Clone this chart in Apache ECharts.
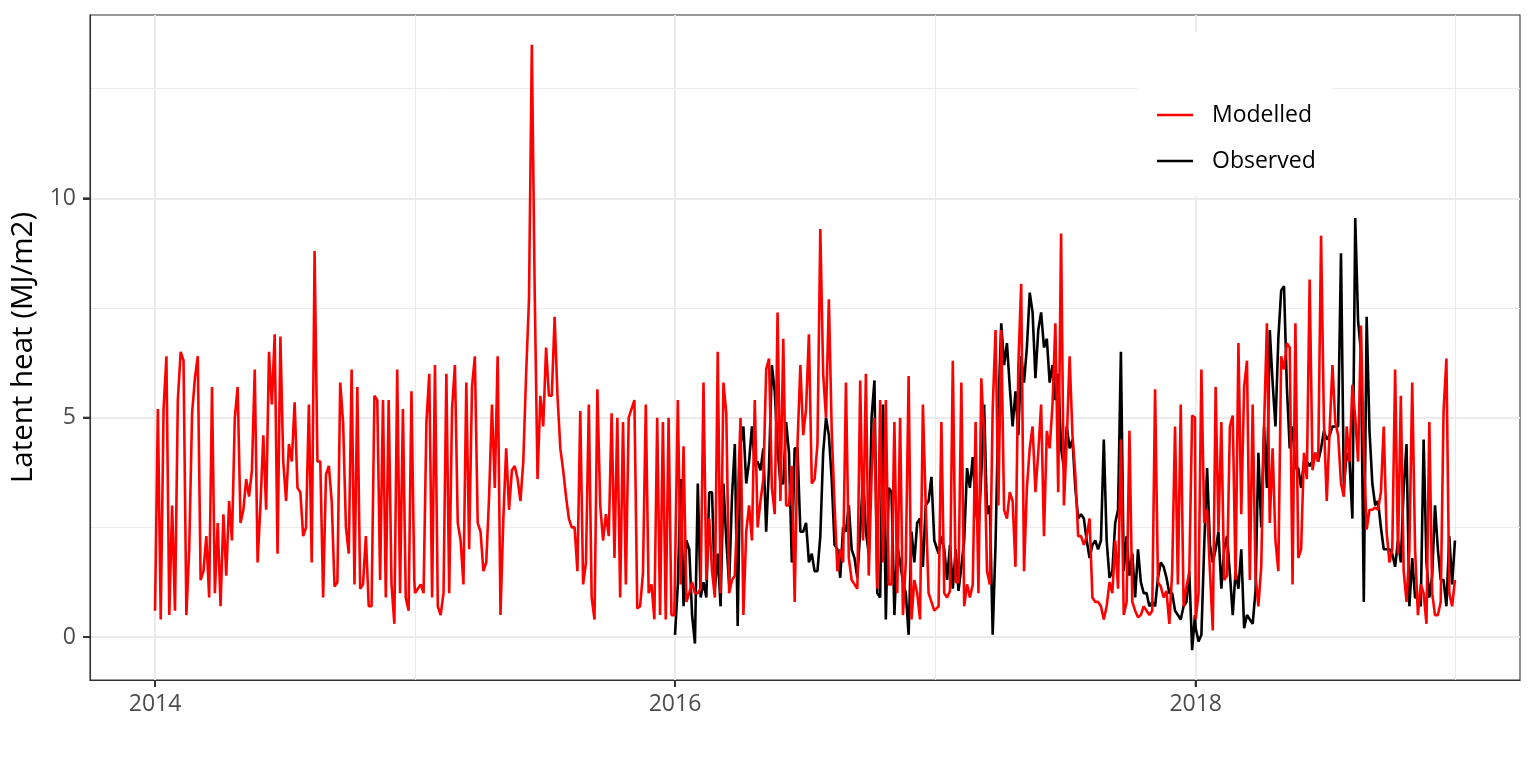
<!DOCTYPE html>
<html>
<head>
<meta charset="utf-8">
<script src="https://cdn.jsdelivr.net/npm/echarts@6/dist/echarts.min.js"></script>
<style>
html,body{margin:0;padding:0;background:#fff;}
#chart{width:1536px;height:768px;}
</style>
</head>
<body>
<div id="chart"></div>
<script>
// Daily latent heat, sampled every 4 days from 1 January of each year (MJ/m2)
const sampleStepDays = 4;
const yearStartDay = {2014: 0, 2015: 365, 2016: 730, 2017: 1096, 2018: 1461};
const yearTickLabels = {0: '2014', 730: '2016', 1461: '2018'};

const modelled2014 = [0.6,5.2,0.4,5.2,6.4,0.5,3.0,0.6,5.4,6.5,6.3,0.5,2.0,5.1,5.9,6.4,1.3,1.5,2.3,0.9,
  5.7,1.0,2.6,0.7,2.8,1.4,3.1,2.2,5.0,5.7,2.6,2.9,3.6,3.2,3.8,6.1,1.7,3.0,4.6,2.9,
  6.5,5.3,6.9,1.9,6.85,4.0,3.1,4.4,4.0,5.35,3.4,3.3,2.3,2.5,5.3,
  1.7,8.8,4.0,4.0,0.9,3.7,3.9,3.1,1.15,1.25,5.8,4.9,2.5,1.9,6.1,1.2,5.7,1.1,1.2,2.3,
  0.7,0.7,5.5,5.4,1.3,5.4,0.9,5.4,1.2,0.3,6.1,1.0,5.2,0.9,0.6,5.6,1.3];
const modelled2015 = [1.0,1.1,1.2,1.0,4.9,6.0,0.9,6.2,0.7,0.5,1.0,6.0,1.0,5.2,6.2,2.6,2.2,1.2,5.8,2.0,
  5.7,6.4,2.6,2.4,1.5,1.7,3.2,5.3,3.4,6.4,0.5,2.7,4.3,2.9,3.8,3.9,3.6,3.1,4.0,6.0,
  7.7,13.5,7.9,3.6,5.5,4.8,6.6,5.5,5.5,7.3,5.5,4.3,3.8,3.2,2.7,2.5,2.5,1.5,5.15,1.2,
  1.7,5.3,0.9,0.4,5.65,3.0,2.2,2.8,2.3,5.1,1.8,5.0,0.9,4.9,1.2,5.0,
  5.2,5.4,0.65,0.7,1.45,5.3,1.0,1.2,0.4,5.0,0.5,4.9,0.4,5.0,0.5,0.5];
const modelled2016 = [0.5,5.4,1.2,4.35,0.8,1.0,1.25,1.0,1.0,1.1,5.8,1.3,2.7,1.5,0.9,6.5,1.0,5.8,5.1,1.0,
  1.3,1.4,3.1,5.0,0.5,2.4,3.0,2.2,5.4,2.5,3.1,3.6,6.1,6.35,3.4,2.8,7.4,3.1,6.8,3.0,3.0,
  3.9,0.8,4.4,6.2,4.6,5.2,6.9,3.5,3.6,4.4,9.3,6.0,5.0,7.7,4.7,3.0,1.5,2.0,1.7,5.8,
  1.8,1.3,1.2,1.1,5.85,2.2,6.0,1.4,3.7,5.0,1.1,5.4,1.7,5.4,1.2,1.2,4.9,1.0,5.0,0.5,
  1.7,5.95,0.4,1.3,1.0,0.4,5.3,3.0,1.0,0.8,0.6];
const modelled2017 = [0.6,0.7,4.9,1.0,0.9,
  1.05,6.3,1.25,1.25,5.8,0.7,1.2,0.9,1.2,4.9,1.0,5.9,4.6,1.5,1.2,5.2,7.0,3.0,7.0,2.9,
  2.7,3.3,3.1,1.6,6.2,8.05,1.5,3.4,4.3,4.8,3.3,4.2,5.3,2.3,4.7,4.3,5.3,7.15,3.3,9.2,
  3.0,4.5,6.4,4.6,3.7,2.3,2.3,2.1,2.3,2.7,0.9,0.8,0.8,0.7,0.4,0.7,1.25,
  1.0,2.2,1.1,4.5,0.5,0.8,4.7,0.8,0.6,0.45,0.5,0.7,0.6,0.5,0.6,5.65,1.25,1.15,0.9,1.05,
  0.3,1.5,4.8,1.2,5.3,0.7,1.15,1.45,5.05,5.0];
const modelled2018 = [0.4,1.0,6.1,2.6,2.9,1.5,0.15,5.7,2.4,4.9,1.3,1.4,4.8,5.05,1.3,6.7,2.8,5.7,6.3,1.3,5.3,1.4,0.7,1.6,4.8,7.15,
  2.6,4.3,2.2,1.5,6.4,6.1,6.7,6.6,1.2,7.15,1.8,2.0,4.2,3.6,8.15,3.8,4.2,4.0,9.15,4.9,3.1,4.7,6.2,4.9,4.6,
  3.5,3.2,4.8,4.0,5.75,5.0,4.0,7.1,4.2,2.45,2.9,2.9,2.95,2.9,3.3,4.8,2.4,1.7,2.0,6.1,
  1.9,5.5,1.5,0.8,2.0,5.8,2.0,0.5,1.2,1.0,0.3,4.9,1.0,0.5,0.5,0.8,5.15,6.35,1.0,0.7,1.3];

const observed2016 = [0.05,1.2,3.6,0.7,2.2,2.0,0.5,-0.15,3.5,0.9,1.25,0.9,3.3,3.3,1.1,1.9,0.7,3.5,2.2,1.2,
  3.2,4.4,0.25,4.4,4.8,3.5,4.0,4.8,3.9,4.0,3.8,4.3,2.4,3.9,6.2,5.6,4.3,3.5,3.5,4.9,4.2,
  1.7,4.3,4.3,2.4,2.4,2.6,1.7,1.9,1.5,1.5,2.3,4.2,5.0,4.6,3.6,2.1,2.0,1.35,2.5,2.4,
  3.0,2.0,1.8,1.35,2.4,3.7,2.4,1.9,5.0,5.85,1.0,0.9,5.3,0.4,3.4,3.3,0.5,2.1,1.7,1.25,
  1.0,0.05,2.4,1.7,2.6,2.7,1.6,3.0,3.1,3.65,2.2];
const observed2017 = [2.2,1.9,2.3,2.0,1.3,
  2.1,1.1,2.0,1.05,1.6,2.2,3.85,3.4,4.1,3.0,2.4,3.7,5.3,2.8,3.0,0.05,2.1,5.2,7.15,6.2,
  6.7,5.7,4.8,5.6,4.6,6.4,5.8,6.6,7.85,7.4,5.9,7.0,7.4,6.6,6.8,5.8,6.2,5.4,6.0,4.3,
  3.85,4.8,4.3,4.5,3.4,2.7,2.8,2.7,2.2,1.8,2.1,2.2,2.0,2.2,4.5,2.2,1.35,
  1.5,2.6,2.9,6.5,1.5,2.3,1.4,1.9,0.9,2.0,1.25,1.0,1.0,0.7,0.8,0.7,1.35,1.7,1.6,1.35,
  1.0,1.0,0.6,0.5,0.4,0.7,0.8,1.5,-0.3,0.5];
const observed2018 = [0.2,-0.1,0.05,2.1,3.85,2.1,1.7,2.0,2.4,1.1,2.0,2.3,1.45,0.5,1.5,1.1,2.0,0.2,0.5,0.4,0.3,1.05,4.2,2.5,4.8,3.4,
  7.0,5.8,4.8,6.8,7.9,8.0,5.7,4.3,4.8,3.85,3.85,3.4,4.0,4.0,3.9,4.0,4.2,4.0,4.3,4.7,4.5,4.6,4.8,4.8,4.8,
  8.75,3.4,4.2,4.0,2.7,9.55,7.2,6.5,0.8,7.3,4.7,3.5,3.0,3.1,2.5,2.0,2.0,2.0,1.9,1.6,
  2.2,1.7,3.4,4.4,0.7,1.8,0.9,0.9,0.7,4.5,1.7,0.9,1.4,3.0,2.0,1.3,1.3,0.7,2.3,1.2,2.2];

const yMajor = [0, 5, 10];
const yMinor = [2.5, 7.5, 12.5];
const xMajor = [0, 730, 1461];
const xMinor = [365, 1096, 1826];

function buildSeries(byYear) {
  const out = [];
  Object.keys(byYear).sort().forEach(function (yr) {
    const start = yearStartDay[yr];
    byYear[yr].forEach(function (v, i) { out.push([start + i * sampleStepDays, v]); });
  });
  return out;
}
const modelledData = buildSeries({2014: modelled2014, 2015: modelled2015, 2016: modelled2016, 2017: modelled2017, 2018: modelled2018});
const observedData = buildSeries({2016: observed2016, 2017: observed2017, 2018: observed2018});

const FONT = 'Open Sans';
const GRID = {left: 90, right: 16, top: 15, bottom: 88};
const TICK_LEN = 7;
const gridLines = [];
yMajor.forEach(v => gridLines.push({yAxis: v, lineStyle: {color: '#ebebeb', width: 2, type: 'solid'}}));
yMinor.forEach(v => gridLines.push({yAxis: v, lineStyle: {color: '#ebebeb', width: 1, type: 'solid'}}));
xMajor.forEach(v => gridLines.push({xAxis: v, lineStyle: {color: '#ebebeb', width: 2, type: 'solid'}}));
xMinor.forEach(v => gridLines.push({xAxis: v, lineStyle: {color: '#ebebeb', width: 1, type: 'solid'}}));

const chart = echarts.init(document.getElementById('chart'), null, {renderer: 'canvas'});
chart.setOption({
  animation: false,
  backgroundColor: '#ffffff',
  grid: Object.assign({show: true, borderColor: '#333333', borderWidth: 1.1, backgroundColor: 'transparent'}, GRID),
  legend: {
    orient: 'vertical', left: 1137, top: 32,
    backgroundColor: '#ffffff',
    padding: [70, 17, 22, 20],
    itemWidth: 36, itemHeight: 2.5, itemGap: 20, icon: 'rect',
    textStyle: {fontFamily: FONT, fontSize: 23, lineHeight: 26, color: '#000', padding: [0, 0, 0, 14]},
    data: ['Modelled', 'Observed']
  },
  xAxis: {
    type: 'value', min: -91.3, max: 1916.3,
    axisLine: {show: true, onZero: false, lineStyle: {color: '#333333', width: 1.1}},
    splitLine: {show: false},
    axisTick: {show: true, inside: false, customValues: xMajor, length: TICK_LEN, lineStyle: {color: '#333', width: 2}},
    axisLabel: {customValues: xMajor, formatter: v => yearTickLabels[v] || '', color: '#4d4d4d', fontFamily: FONT, fontSize: 23, margin: 13}
  },
  yAxis: {
    type: 'value', min: -0.98, max: 14.18,
    name: 'Latent heat (MJ/m2)', nameLocation: 'middle', nameGap: 47,
    nameTextStyle: {fontFamily: FONT, fontSize: 29.5, color: '#000'},
    axisLine: {show: true, onZero: false, lineStyle: {color: '#333333', width: 1.1}},
    splitLine: {show: false},
    axisTick: {show: true, inside: false, customValues: yMajor, length: TICK_LEN, lineStyle: {color: '#333', width: 2}},
    axisLabel: {customValues: yMajor, color: '#4d4d4d', fontFamily: FONT, fontSize: 23, margin: 14}
  },
  series: [
    {
      name: 'Observed', type: 'line', data: observedData, color: '#000000',
      showSymbol: false, symbol: 'none', lineStyle: {width: 2.6, color: '#000000'},
      markLine: {silent: true, z: 0, symbol: ['none', 'none'], label: {show: false}, data: gridLines, animation: false}
    },
    {
      name: 'Modelled', type: 'line', data: modelledData, color: '#ff0000',
      showSymbol: false, symbol: 'none', lineStyle: {width: 2.6, color: '#ff0000'}
    }
  ]
});

// Axis tick marks outside the panel, positioned through the chart's own scales
const axisBottom = 768 - GRID.bottom;
const ticks = [];
yMajor.forEach(function (v) {
  const py = chart.convertToPixel({yAxisIndex: 0}, v);
  ticks.push({type: 'rect', silent: true, z: 100, shape: {x: GRID.left - TICK_LEN, y: py - 1, width: TICK_LEN, height: 2}, style: {fill: '#333333'}});
});
xMajor.forEach(function (v) {
  const px = chart.convertToPixel({xAxisIndex: 0}, v);
  ticks.push({type: 'rect', silent: true, z: 100, shape: {x: px - 1, y: axisBottom, width: 2, height: TICK_LEN}, style: {fill: '#333333'}});
});
chart.setOption({graphic: {elements: ticks}});
</script>
</body>
</html>
